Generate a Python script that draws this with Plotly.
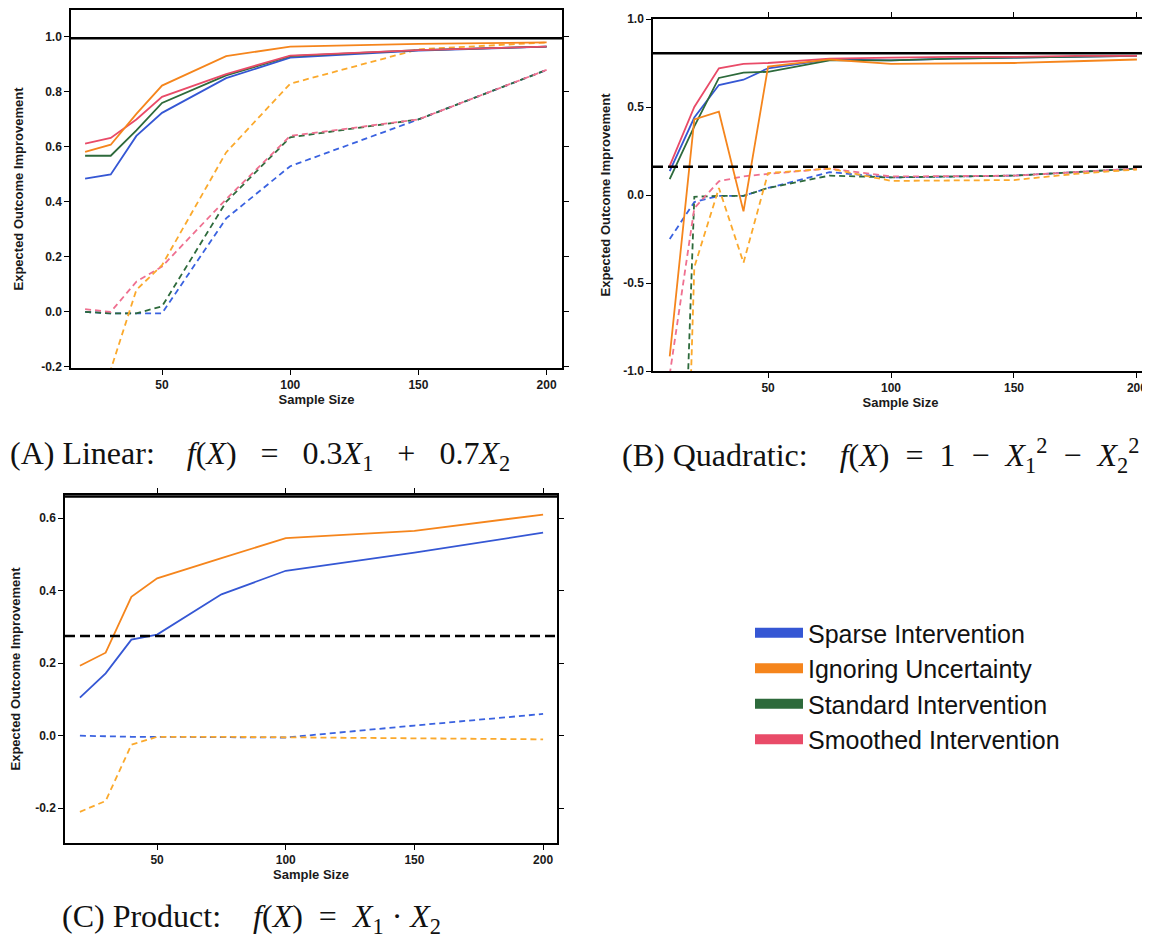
import plotly.graph_objects as go

# ---------------- data ----------------
series_names = ["Sparse Intervention", "Ignoring Uncertainty",
                "Standard Intervention", "Smoothed Intervention"]
series_colors = ["#3557d4", "#f5851c", "#2d6a3b", "#e94b68"]
dashed_colors = ["#3a62e0", "#fba92c", "#2d6a3b", "#ef7090"]

# Panel A: Linear
x_a = [20, 30, 40, 50, 75, 100, 150, 200]
a_solid = {
    "Sparse Intervention":   [0.485, 0.50, 0.64, 0.724, 0.85, 0.925, 0.95, 0.965],
    "Standard Intervention": [0.568, 0.568, 0.66, 0.76, 0.86, 0.93, 0.952, 0.965],
    "Smoothed Intervention": [0.612, 0.633, 0.70, 0.782, 0.865, 0.932, 0.952, 0.965],
    "Ignoring Uncertainty":  [0.582, 0.608, 0.72, 0.823, 0.93, 0.965, 0.975, 0.98],
}
a_dashed = {
    "Sparse Intervention":   [0.0, -0.005, -0.005, -0.005, 0.34, 0.53, 0.70, 0.88],
    "Standard Intervention": [0.0, -0.005, -0.005, 0.02, 0.40, 0.635, 0.70, 0.88],
    "Smoothed Intervention": [0.01, 0.0, 0.11, 0.165, 0.41, 0.64, 0.70, 0.88],
    "Ignoring Uncertainty":  [-0.5, -0.21, 0.08, 0.17, 0.58, 0.83, 0.955, 0.98],
}
a_best = 0.995
a_yticks = [-0.2, 0.0, 0.2, 0.4, 0.6, 0.8, 1.0]

# Panel B: Quadratic
x_b = [10, 20, 30, 40, 50, 75, 100, 125, 150, 175, 200]
b_solid = {
    "Sparse Intervention":   [0.135, 0.44, 0.625, 0.655, 0.72, 0.77, 0.765, 0.775, 0.78, 0.785, 0.79],
    "Standard Intervention": [0.09, 0.39, 0.665, 0.695, 0.70, 0.765, 0.765, 0.775, 0.78, 0.785, 0.79],
    "Smoothed Intervention": [0.165, 0.50, 0.72, 0.745, 0.75, 0.775, 0.78, 0.785, 0.785, 0.79, 0.79],
    "Ignoring Uncertainty":  [-0.917, 0.43, 0.473, -0.093, 0.73, 0.77, 0.745, 0.748, 0.75, 0.76, 0.77],
}
b_dashed = {
    "Sparse Intervention":   [-0.25, -0.04, -0.005, -0.005, 0.04, 0.13, 0.10, 0.105, 0.11, 0.13, 0.15],
    "Standard Intervention": [-4.0, -0.01, -0.005, -0.005, 0.04, 0.11, 0.10, 0.105, 0.11, 0.13, 0.15],
    "Smoothed Intervention": [-1.02, -0.075, 0.078, 0.106, 0.12, 0.15, 0.105, 0.108, 0.11, 0.13, 0.15],
    "Ignoring Uncertainty":  [-5.0, -0.41, 0.04, -0.385, 0.125, 0.15, 0.08, 0.082, 0.085, 0.12, 0.145],
}
b_best = 0.805
b_dummy = 0.16
b_yticks = [-1.0, -0.5, 0.0, 0.5, 1.0]

# Panel C: Product
x_c = [20, 30, 40, 50, 75, 100, 150, 200]
c_solid = {
    "Sparse Intervention":  [0.105, 0.172, 0.265, 0.279, 0.39, 0.455, 0.505, 0.56],
    "Ignoring Uncertainty": [0.193, 0.229, 0.383, 0.434, 0.49, 0.545, 0.565, 0.61],
}
c_dashed = {
    "Sparse Intervention":  [0.0, -0.002, -0.003, -0.003, -0.004, -0.005, 0.028, 0.06],
    "Ignoring Uncertainty": [-0.21, -0.18, -0.025, -0.003, -0.003, -0.004, -0.007, -0.01],
}
c_best = 0.66
c_dummy = 0.275
c_yticks = [-0.2, 0.0, 0.2, 0.4, 0.6]

x_ticks = [50, 100, 150, 200]

SP = "&nbsp;"
captions = [
    "(A) Linear:" + SP * 4 + "<i>f</i>(<i>X</i>)" + SP * 3 + "=" + SP * 3 + "0.3<i>X</i><sub>1</sub>"
    + SP * 3 + "+" + SP * 3 + "0.7<i>X</i><sub>2</sub>",
    "(B) Quadratic:" + SP * 4 + "<i>f</i>(<i>X</i>)" + SP * 2 + "=" + SP * 2 + "1" + SP * 2 + "&#8722;"
    + SP * 2 + "<i>X</i><sub>1</sub><sup>2</sup>" + SP * 2 + "&#8722;" + SP * 2 + "<i>X</i><sub>2</sub><sup>2</sup>",
    "(C) Product:" + SP * 4 + "<i>f</i>(<i>X</i>)" + SP * 2 + "=" + SP * 2 + "<i>X</i><sub>1</sub>"
    + SP + "&#183;" + SP + "<i>X</i><sub>2</sub>",
]

# ---------------- figure ----------------
W, H = 1150, 946
OFF = 8  # page body margin
color_of = dict(zip(series_names, series_colors))
dcolor_of = dict(zip(series_names, dashed_colors))
fig = go.Figure()

def px(v):
    return (v - OFF) / W

def py(v):
    return 1 - (v - OFF) / H

panels = [
    dict(xa="x", ya="y", x=x_a, solid=a_solid, dashed=a_dashed,
         order=["Sparse Intervention", "Standard Intervention", "Smoothed Intervention", "Ignoring Uncertainty"]),
    dict(xa="x2", ya="y2", x=x_b, solid=b_solid, dashed=b_dashed,
         order=["Sparse Intervention", "Standard Intervention", "Smoothed Intervention", "Ignoring Uncertainty"]),
    dict(xa="x3", ya="y3", x=x_c, solid=c_solid, dashed=c_dashed,
         order=["Sparse Intervention", "Ignoring Uncertainty"]),
]

for p in panels:
    for name in p["order"]:
        fig.add_trace(go.Scatter(
            x=p["x"], y=p["dashed"][name], mode="lines", xaxis=p["xa"], yaxis=p["ya"],
            line=dict(color=dcolor_of[name], width=1.8, dash="6px,4px"),
            legendgroup=name, showlegend=False, name=name))
    for name in p["order"]:
        fig.add_trace(go.Scatter(
            x=p["x"], y=p["solid"][name], mode="lines", xaxis=p["xa"], yaxis=p["ya"],
            line=dict(color=color_of[name], width=1.8),
            legendgroup=name, showlegend=False, name=name))

# legend entries
for name in series_names:
    fig.add_trace(go.Scatter(
        x=[None], y=[None], mode="lines", xaxis="x", yaxis="y",
        line=dict(color=color_of[name], width=10),
        legendgroup=name, showlegend=True, name=name))

# reference lines
ref_lines = [("x", "y", a_best, "solid"), ("x2", "y2", b_best, "solid"),
             ("x2", "y2", b_dummy, "dash"), ("x3", "y3", c_best, "solid"),
             ("x3", "y3", c_dummy, "dash")]
for xa, ya, val, style in ref_lines:
    fig.add_shape(type="line", xref=f"{xa} domain", yref=ya, x0=0, x1=1, y0=val, y1=val,
                  line=dict(color="black", width=2.5, dash="10px,5px" if style == "dash" else "solid"))

tickfont = dict(family="Liberation Sans", size=12, color="#1a1a1a", weight="bold")
titlefont = dict(family="Liberation Sans", size=13, color="#1a1a1a", weight="bold")

def xaxis(domain, rng, anchor):
    return dict(domain=domain, range=rng, anchor=anchor, tickvals=x_ticks,
                ticktext=[str(t) for t in x_ticks], ticks="outside", ticklen=5,
                tickwidth=1.2, tickcolor="black", mirror="allticks", showline=True,
                linecolor="black", linewidth=1.5, showgrid=False, zeroline=False,
                automargin=False, tickfont=tickfont,
                title=dict(text="Sample Size", font=titlefont, standoff=3))

def yaxis(domain, rng, anchor, ticks, standoff):
    return dict(domain=domain, range=rng, anchor=anchor, tickvals=ticks,
                ticktext=[f"{t:.1f}" for t in ticks], ticks="outside", ticklen=5,
                tickwidth=1.2, tickcolor="black", mirror="allticks", showline=True,
                linecolor="black", linewidth=1.5, showgrid=False, zeroline=False,
                automargin=False, tickfont=tickfont,
                title=dict(text="Expected Outcome Improvement", font=titlefont, standoff=standoff))

fig.update_layout(
    width=W, height=H, margin=dict(l=0, r=0, t=0, b=0, autoexpand=False),
    paper_bgcolor="white", plot_bgcolor="white",
    xaxis=xaxis([px(71), px(562)], [14.5, 206], "y"),
    yaxis=yaxis([py(368), py(10)], [-0.204, 1.098], "x", a_yticks, 15),
    xaxis2=xaxis([px(653), px(1148)], [3.2, 204.5], "y2"),
    yaxis2=yaxis([py(371), py(19)], [-1.0, 1.0], "x2", b_yticks, 10),
    xaxis3=xaxis([px(65), px(557)], [14.2, 205.4], "y3"),
    yaxis3=yaxis([py(843), py(495)], [-0.296, 0.664], "x3", c_yticks, 14),
    legend=dict(x=px(750), y=py(610), xanchor="left", yanchor="top",
                font=dict(family="Liberation Sans", size=25, color="#111"),
                itemwidth=48, traceorder="grouped", tracegroupgap=0,
                bgcolor="rgba(0,0,0,0)"),
    showlegend=True,
)

cap_font = dict(family="Liberation Serif", size=32, color="#111")
cap_pos = [(8, 455), (620, 455), (60, 918)]
for text, (cx, cy) in zip(captions, cap_pos):
    fig.add_annotation(text=text, x=px(cx), y=py(cy), xref="paper", yref="paper",
                       xanchor="left", yanchor="middle", showarrow=False, font=cap_font)

fig.write_html("out.html")
